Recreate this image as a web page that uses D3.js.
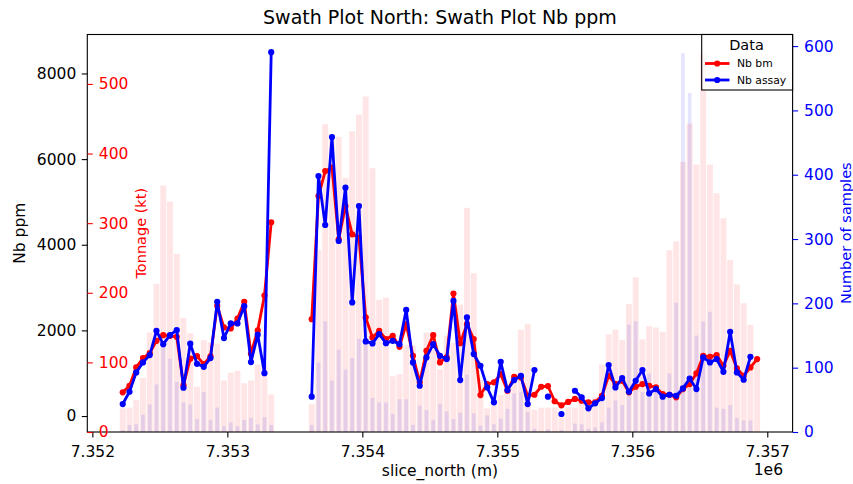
<!DOCTYPE html>
<html>
<head>
<meta charset="utf-8">
<script src="https://cdn.jsdelivr.net/npm/d3@7/dist/d3.min.js"></script>
<style>
  body { margin: 0; background: #fff; }
  text { font-family: "DejaVu Sans", sans-serif; }
</style>
</head>
<body>
<svg id="chart" width="853" height="484"></svg>
<script>
// slice centres (m)
const sliceNorth = [
  7352225, 7352275, 7352325, 7352375, 7352425, 7352475, 7352525, 7352575, 7352625, 7352675,
  7352725, 7352775, 7352825, 7352875, 7352925, 7352975, 7353025, 7353075, 7353125, 7353175,
  7353225, 7353275, 7353325, 7353375, 7353425, 7353475, 7353525, 7353575, 7353625, 7353675,
  7353725, 7353775, 7353825, 7353875, 7353925, 7353975, 7354025, 7354075, 7354125, 7354175,
  7354225, 7354275, 7354325, 7354375, 7354425, 7354475, 7354525, 7354575, 7354625, 7354675,
  7354725, 7354775, 7354825, 7354875, 7354925, 7354975, 7355025, 7355075, 7355125, 7355175,
  7355225, 7355275, 7355325, 7355375, 7355425, 7355475, 7355525, 7355575, 7355625, 7355675,
  7355725, 7355775, 7355825, 7355875, 7355925, 7355975, 7356025, 7356075, 7356125, 7356175,
  7356225, 7356275, 7356325, 7356375, 7356425, 7356475, 7356525, 7356575, 7356625, 7356675,
  7356725, 7356775, 7356825, 7356875, 7356925
];

// tonnage per slice (kt)
const tonnage = [
  34, 35, 46, 78, 143, 213, 354, 331, 256, 164,
  142, 65, 132, 129, 127, 74, 85, 88, 70, 74,
  97, 97, 54, null, null, null, null, null, 40, 262,
  442, 427, 424, 365, 432, 456, 482, 379, 190, 193,
  80, 83, 125, 124, 65, 143, 143, 90, 138, 128,
  183, 322, 228, 75, 34, 48, 53, 58, 75, 147,
  155, 32, 35, 35, 35, 26, 35, 35, 50, 47,
  50, 97, 140, 147, 132, 184, 222, 133, 152, 150,
  144, 261, 274, 388, 443, 384, 544, 384, 343, 307,
  247, 212, 185, 154, 100
];

// number of samples per slice
const samples = [
  3, 11, 12, 27, 43, 74, 137, 114, 78, 46,
  43, 20, 62, 19, 38, 9, 15, 9, 19, 22,
  12, 23, 11, null, null, null, null, null, 11, 108,
  172, 80, 128, 97, 115, 145, 146, 53, 46, 46,
  28, 51, 51, 11, 41, 34, 19, 44, 32, 20,
  30, 89, 29, 10, 26, 12, 21, 36, 60, 62,
  31, 5, 0, 4, 0, 3, 0, 13, 12, 5,
  7, 15, 38, 49, 42, 167, 172, 62, 91, 70,
  59, 91, 201, 589, 527, 150, 172, 187, 38, 36,
  42, 22, 18, 18, 0
];

// Nb block model grade (ppm)
const nbBm = [
  553, 707, 1135, 1353, 1469, 1756, 1889, 1873, 1850, 720,
  1340, 1400, 1213, 1392, 2573, 2070, 2045, 2278, 2666, 1455,
  2000, 2815, 4525, null, null, null, null, null, 2262, 5138,
  5721, 5800, 4128, 4900, 4244, 4167, 2302, 1835, 1990, 1796,
  1873, 1616, 2146, 1406, 786, 1523, 1889, 1252, 1369, 2861,
  1700, 2146, 1796, 490, 746, 786, 979, 590, 917, 902,
  474, 497, 684, 700, 345, 250, 330, 400, 357, 319,
  319, 474, 940, 746, 823, 553, 684, 746, 707, 669,
  513, 497, 436, 630, 746, 996, 1406, 1383, 1423, 1174,
  1523, 1112, 940, 1135, 1329
];

// Nb assay grade (ppm)
const nbAssay = [
  280, 567, 1019, 1252, 1423, 1990, 1679, 1889, 2006, 660,
  1690, 1220, 1150, 1353, 2666, 1820, 2162, 2162, 2565, 1260,
  1900, 1000, 8497, null, null, null, null, null, 451, 5604,
  4461, 6514, 4088, 5333, 2652, 4905, 1742, 1695, 1912, 1702,
  1756, 1679, 2479, 1252, 707, 1369, 1679, 1406, 1329, 2689,
  840, 2302, 1446, 1174, 669, 319, 1267, 606, 840, 940,
  280, 1073, null, 451, null, 47, null, 590, 436, 179,
  296, 420, 1189, 669, 886, 567, 823, 1073, 529, 630,
  451, 497, 474, 645, 875, 630, 1369, 1252, 1329, 1033,
  1966, 1019, 847, 1383, null
];

const xTicks = [7352000, 7353000, 7354000, 7355000, 7356000, 7357000];
const xTickLabels = ["7.352", "7.353", "7.354", "7.355", "7.356", "7.357"];
const ppmTicks = [0, 2000, 4000, 6000, 8000];
const tonTicks = [0, 100, 200, 300, 400, 500];
const sampleTicks = [0, 100, 200, 300, 400, 500, 600];
const sliceWidth = 50;

const svg = d3.select("#chart");
const plotLeft = 87.3, plotRight = 792.6, plotTop = 34.5, plotBottom = 432;
const fs = 15.5;

const x = d3.scaleLinear().domain([7351962.5, 7357187.5]).range([plotLeft, plotRight]);
const yPpm = d3.scaleLinear().domain([-373, 8910]).range([plotBottom, plotTop]);
const yTon = d3.scaleLinear().domain([0, 571]).range([plotBottom, plotTop]);
const ySamp = d3.scaleLinear().domain([0, 618]).range([plotBottom, plotTop]);

const rows = sliceNorth.map((c, i) => ({
  c: c, ton: tonnage[i], n: samples[i], bm: nbBm[i], assay: nbAssay[i]
}));

// tonnage bars
svg.append("g").selectAll("rect")
  .data(rows.filter(d => d.ton != null))
  .join("rect")
  .attr("x", d => x(d.c - sliceWidth / 2) + 0.4)
  .attr("width", d => x(d.c + sliceWidth / 2) - x(d.c - sliceWidth / 2) - 0.8)
  .attr("y", d => yTon(d.ton))
  .attr("height", d => plotBottom - yTon(d.ton))
  .attr("fill", "red")
  .attr("fill-opacity", 0.1);

// sample count bars
svg.append("g").selectAll("rect")
  .data(rows.filter(d => d.n))
  .join("rect")
  .attr("x", d => x(d.c - 14))
  .attr("width", d => x(d.c + 14) - x(d.c - 14))
  .attr("y", d => ySamp(d.n))
  .attr("height", d => plotBottom - ySamp(d.n))
  .attr("fill", "blue")
  .attr("fill-opacity", 0.1);

// grade lines
function drawSeries(key, colour) {
  const line = d3.line()
    .defined(d => d[key] != null)
    .x(d => x(d.c))
    .y(d => yPpm(d[key]));
  svg.append("path")
    .datum(rows)
    .attr("d", line)
    .attr("fill", "none")
    .attr("stroke", colour)
    .attr("stroke-width", 2.8)
    .attr("stroke-linejoin", "round");
  svg.append("g").selectAll("circle")
    .data(rows.filter(d => d[key] != null))
    .join("circle")
    .attr("cx", d => x(d.c))
    .attr("cy", d => yPpm(d[key]))
    .attr("r", 3.1)
    .attr("fill", colour);
}
drawSeries("bm", "red");
drawSeries("assay", "blue");

// frame
svg.append("rect")
  .attr("x", plotLeft).attr("y", plotTop)
  .attr("width", plotRight - plotLeft).attr("height", plotBottom - plotTop)
  .attr("fill", "none").attr("stroke", "black").attr("stroke-width", 1.1);

function styleAxis(g, colour) {
  g.select(".domain").remove();
  g.selectAll("line").attr("stroke", colour).attr("stroke-width", 1.1);
  g.selectAll("text").attr("fill", colour)
    .style("font-size", fs + "px")
    .style("font-family", "DejaVu Sans, sans-serif");
}

svg.append("g")
  .attr("transform", `translate(0,${plotBottom})`)
  .call(d3.axisBottom(x).tickValues(xTicks).tickFormat((d, i) => xTickLabels[i])
    .tickSize(5.5).tickPadding(8.5))
  .call(g => styleAxis(g, "black"));

svg.append("g")
  .attr("transform", `translate(${plotLeft},0)`)
  .call(d3.axisLeft(yPpm).tickValues(ppmTicks).tickFormat(d3.format("d"))
    .tickSize(5.5).tickPadding(5.5))
  .call(g => styleAxis(g, "black"));

svg.append("g")
  .attr("transform", `translate(${plotLeft},0)`)
  .call(d3.axisRight(yTon).tickValues(tonTicks).tickFormat(d3.format("d"))
    .tickSize(5.5).tickPadding(6))
  .call(g => styleAxis(g, "red"));

svg.append("g")
  .attr("transform", `translate(${plotRight},0)`)
  .call(d3.axisRight(ySamp).tickValues(sampleTicks).tickFormat(d3.format("d"))
    .tickSize(5.5).tickPadding(6))
  .call(g => styleAxis(g, "blue"));

// labels
svg.append("text")
  .attr("x", (plotLeft + plotRight) / 2).attr("y", 24)
  .attr("text-anchor", "middle")
  .style("font-size", "19px")
  .text("Swath Plot North: Swath Plot Nb ppm");

svg.append("text")
  .attr("x", (plotLeft + plotRight) / 2).attr("y", 476)
  .attr("text-anchor", "middle")
  .style("font-size", fs + "px")
  .text("slice_north (m)");

svg.append("text")
  .attr("x", 783).attr("y", 475)
  .attr("text-anchor", "end")
  .style("font-size", fs + "px")
  .text("1e6");

svg.append("text")
  .attr("transform", `translate(25,${(plotTop + plotBottom) / 2}) rotate(-90)`)
  .attr("text-anchor", "middle")
  .style("font-size", fs + "px")
  .text("Nb ppm");

svg.append("text")
  .attr("transform", `translate(146,${(plotTop + plotBottom) / 2}) rotate(-90)`)
  .attr("text-anchor", "middle")
  .attr("fill", "red")
  .style("font-size", "14.5px")
  .text("Tonnage (kt)");

svg.append("text")
  .attr("transform", `translate(851,${(plotTop + plotBottom) / 2}) rotate(-90)`)
  .attr("text-anchor", "middle")
  .attr("fill", "blue")
  .style("font-size", "14.5px")
  .text("Number of samples");

// legend
const legend = svg.append("g");
legend.append("rect")
  .attr("x", 701.7).attr("y", plotTop)
  .attr("width", plotRight - 701.7).attr("height", 55.5)
  .attr("fill", "white").attr("fill-opacity", 0.8)
  .attr("stroke", "black").attr("stroke-width", 1.1);
legend.append("text")
  .attr("x", 746.5).attr("y", 50)
  .attr("text-anchor", "middle")
  .style("font-size", "14.5px")
  .text("Data");
const legendItems = [
  { label: "Nb bm", colour: "red", y: 63.5 },
  { label: "Nb assay", colour: "blue", y: 80 }
];
legendItems.forEach(item => {
  legend.append("line")
    .attr("x1", 705).attr("x2", 729.5)
    .attr("y1", item.y).attr("y2", item.y)
    .attr("stroke", item.colour).attr("stroke-width", 2.8);
  legend.append("circle")
    .attr("cx", 717.2).attr("cy", item.y).attr("r", 3.1)
    .attr("fill", item.colour);
  legend.append("text")
    .attr("x", 737).attr("y", item.y + 3.8)
    .style("font-size", "10.8px")
    .text(item.label);
});
</script>
</body>
</html>
